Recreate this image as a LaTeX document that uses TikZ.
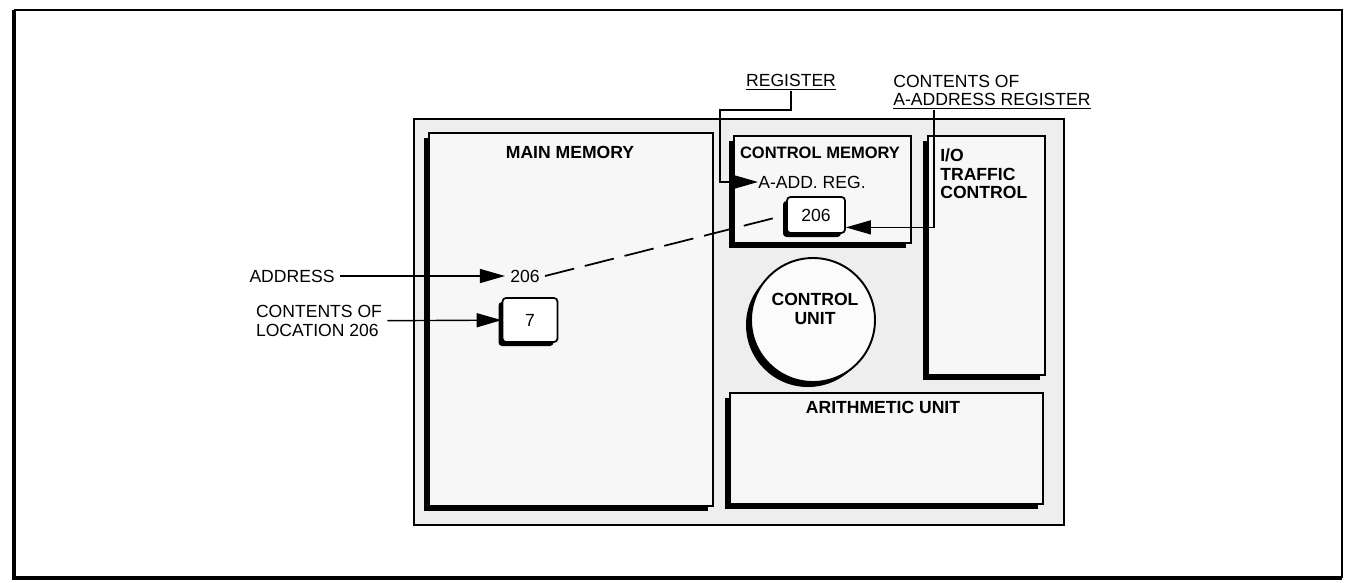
\documentclass[tikz,border=0pt]{standalone}
\usepackage{fontspec}
\setmainfont{Liberation Sans}
\usetikzlibrary{arrows.meta,shadows,positioning}
\newcommand\lblfont{\fontsize{10}{10.5}\selectfont}
\tikzset{
  >={Triangle[length=5mm,width=2.8mm]},
  panel/.style={draw,line width=0.9pt,fill=gray!13,inner sep=0pt,anchor=north west},
  unit/.style={draw,line width=1.1pt,fill=gray!6,inner sep=0pt,anchor=north west,
    drop shadow={shadow xshift=-1mm,shadow yshift=-1mm,opacity=1,fill=black}},
  cell/.style={draw,line width=1pt,fill=white,rounded corners=2pt,font=\lblfont,
    drop shadow={shadow xshift=-0.8mm,shadow yshift=-0.8mm,opacity=1,fill=black}},
  title/.style={font=\lblfont\bfseries,align=center,inner sep=0pt},
  tag/.style={font=\lblfont,align=left,inner sep=1mm},
  uline/.style={font=\lblfont,align=left,inner sep=0pt},
  lead/.style={->,line width=0.8pt},
}
\begin{document}
\begin{tikzpicture}[x=0.2mm,y=-0.2mm]
  \useasboundingbox (0,0) rectangle (1348,582);
  \draw[line width=0.6pt] (14,10) -- (1342,10) -- (1342,578);
  \draw[line width=2.4pt] (14,10) -- (14,578) -- (1342,578);

  % machine
  \node[panel,minimum width=13cm,minimum height=8.12cm] (panel) at (413,118) {};
  \node[unit,minimum width=5.68cm,minimum height=7.46cm] (mainmem) at (428,132) {};
  \node[unit,minimum width=3.54cm,minimum height=2.14cm] (ctrlmem) at (733,135) {};
  \node[unit,minimum width=2.34cm,minimum height=4.78cm] (io) at (927,135) {};
  \node[unit,minimum width=6.26cm,minimum height=2.22cm] (arith) at (729,392) {};
  \node[circle,draw,line width=1.1pt,fill=gray!3,minimum size=2.48cm,
    drop shadow={shadow xshift=-1mm,shadow yshift=-1mm,opacity=1,fill=black}] (ctrlunit) at (813,320) {};

  \node[title] (mainmemt) at (570,152) {MAIN MEMORY};
  \node[title,font=\fontsize{9.4}{10}\selectfont\bfseries] (ctrlmemt) at (820,153) {CONTROL MEMORY};
  \node[uline] (aadd) at (812,182) {A-ADD. REG.};
  \node[title,align=left,anchor=west] (iot) at (940,174) {I/O\\TRAFFIC\\CONTROL};
  \node[title] (ctrlunitt) at (815,309) {CONTROL\\UNIT};
  \node[title] (aritht) at (883,407) {ARITHMETIC UNIT};

  \node[tag] (a206) at (525,276) {206};
  \node[cell,minimum width=1.1cm,minimum height=0.88cm] (c7) at (530,320) {7};
  \node[cell,minimum width=1.16cm,minimum height=0.72cm] (reg) at (816,215) {206};

  % labels
  \node[tag] (addr) at (292,276) {ADDRESS};
  \node[tag] (loc) at (319,321) {CONTENTS OF\\LOCATION 206};
  \node[uline,anchor=south] (regl) at (791,91) {\underline{REGISTER}};
  \node[uline,anchor=south west] (aal) at (893,110) {CONTENTS OF\\\underline{A-ADDRESS REGISTER}};
  \coordinate (regbend) at (720,110);

  \draw[lead] (addr) -- (a206);
  \draw[lead] (loc) -- (c7);
  \draw[lead] (regl.south) |- (regbend) |- (aadd.west);
  \draw[lead] ([xshift=8.2mm]aal.south west) |- ([yshift=1.3mm]reg.south east);
  \draw[line width=1pt,dash pattern=on 6mm off 2.2mm] (a206.east) -- (reg.west);
\end{tikzpicture}
\end{document}
